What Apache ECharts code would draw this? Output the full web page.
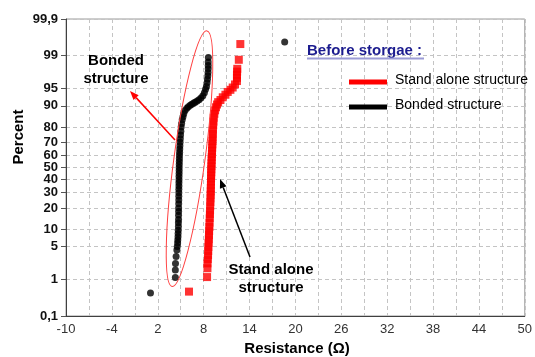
<!DOCTYPE html>
<html>
<head>
<meta charset="utf-8">
<script src="https://cdn.jsdelivr.net/npm/echarts@6/dist/echarts.min.js"></script>
<style>
  html, body { margin: 0; padding: 0; background: #fff; }
  #chart { width: 535px; height: 357px; }
</style>
</head>
<body>
<div id="chart"></div>
<script>
// Probability plot data (resistance in ohm, cumulative percent)
const bondedRes = [1.05, 4.3, 4.3, 4.32, 4.4, 4.5, 4.55, 4.6, 4.62, 4.65, 4.66, 4.68, 4.7, 4.7, 4.72, 4.72, 4.73, 4.73,
  4.74, 4.75, 4.75, 4.76, 4.76, 4.77, 4.77, 4.78, 4.78, 4.79, 4.8, 4.8, 4.81, 4.82, 4.83, 4.84, 4.86, 4.88, 4.9,
  4.92, 4.95, 4.98, 5.02, 5.06, 5.12, 5.2, 5.3, 5.4, 5.57, 5.8, 6.0, 6.25, 6.45, 6.7, 6.9, 7.15, 7.4, 7.65, 7.9,
  8.1, 8.25, 8.37, 8.45, 8.5, 8.55, 8.58, 8.6, 8.6, 8.6, 8.62, 18.6];
const bondedPct = [0.45, 1.1, 1.65, 2.3, 3.2, 4.3, 5.0, 5.8, 6.6, 7.5, 8.5, 9.6, 11, 12.5, 14, 16, 18, 20,
  22.5, 25, 27.5, 30, 32.5, 35, 37.5, 40, 42.5, 45, 47.5, 50, 52.5, 55, 57.5, 60, 62.5, 65, 67.5,
  70, 72.5, 75, 77.5, 80, 82, 84, 85.5, 86.8, 88.2, 89.1, 89.7, 90.2, 90.6, 91.0, 91.3, 91.7, 92.1, 92.6, 93.2,
  94.0, 94.8, 95.4, 96.1, 96.7, 97.2, 97.6, 98.0, 98.3, 98.6, 98.9, 99.55];

const standRes = [6.09, 8.45, 8.5, 8.5, 8.55, 8.58, 8.6, 8.62, 8.65, 8.68, 8.7, 8.72, 8.75, 8.77, 8.8, 8.82, 8.84,
  8.86, 8.88, 8.9, 8.92, 8.93, 8.94, 8.95, 8.96, 8.97, 8.98, 9.0, 9.0, 9.02, 9.03, 9.05, 9.06, 9.08, 9.1, 9.12,
  9.14, 9.16, 9.18, 9.2, 9.22, 9.25, 9.28, 9.32, 9.4, 9.5, 9.62, 9.75, 9.9, 10.2, 10.5, 10.85, 11.15, 11.5, 11.8,
  12.1, 12.36, 12.36, 12.36, 12.38, 12.4, 12.6, 12.8];
const standPct = [0.49, 1.13, 1.8, 2.3, 2.8, 3.4, 4.1, 4.9, 5.8, 6.8, 8, 9.3, 10.8, 12.5, 14.5, 16.5, 18.5,
  21, 23.5, 26, 28.5, 31, 33.5, 36, 38.5, 41, 43.5, 46, 48.5, 51, 53.5, 56, 58.5, 61, 63.5, 66,
  68.5, 71, 73.5, 76, 78.5, 81, 83, 85, 86.8, 88.3, 89.5, 90.5, 91.3, 92.0, 92.8, 93.5, 94.2, 94.7, 95.2,
  95.8, 96.4, 96.9, 97.3, 97.7, 98.0, 98.75, 99.49];

const yTickPct = [0.1, 1, 5, 10, 20, 30, 40, 50, 60, 70, 80, 90, 95, 99, 99.9];
const yTickLabels = ['0,1', '1', '5', '10', '20', '30', '40', '50', '60', '70', '80', '90', '95', '99', '99,9'];

// inverse normal cdf (Acklam), used for the probability axis
function probit(p) {
  const a = [-39.69683028665376, 220.9460984245205, -275.9285104469687, 138.3577518672690, -30.66479806614716, 2.506628277459239];
  const b = [-54.47609879822406, 161.5858368580409, -155.6989798598866, 66.80131188771972, -13.28068155288572];
  const c = [-0.007784894002430293, -0.3223964580411365, -2.400758277161838, -2.549732539343734, 4.374664141464968, 2.938163982698783];
  const d = [0.007784695709041462, 0.3224671290700398, 2.445134137142996, 3.754408661907416];
  const pl = 0.02425;
  if (p < pl) {
    const q = Math.sqrt(-2 * Math.log(p));
    return (((((c[0] * q + c[1]) * q + c[2]) * q + c[3]) * q + c[4]) * q + c[5]) / ((((d[0] * q + d[1]) * q + d[2]) * q + d[3]) * q + 1);
  }
  if (p > 1 - pl) {
    const q = Math.sqrt(-2 * Math.log(1 - p));
    return -(((((c[0] * q + c[1]) * q + c[2]) * q + c[3]) * q + c[4]) * q + c[5]) / ((((d[0] * q + d[1]) * q + d[2]) * q + d[3]) * q + 1);
  }
  const q = p - 0.5, r = q * q;
  return (((((a[0] * r + a[1]) * r + a[2]) * r + a[3]) * r + a[4]) * r + a[5]) * q / (((((b[0] * r + b[1]) * r + b[2]) * r + b[3]) * r + b[4]) * r + 1);
}

const yTickZ = yTickPct.map((p) => probit(p / 100));
const toPoints = (res, pct) => res.map((x, i) => [x, probit(pct[i] / 100)]);

const FONT = "'Liberation Sans', Arial, sans-serif";

// arrow line with a filled head at (x2, y2)
function arrow(x1, y1, x2, y2, color) {
  const ang = Math.atan2(y2 - y1, x2 - x1);
  const len = 9, half = 3.5;
  const bx = x2 - len * Math.cos(ang), by = y2 - len * Math.sin(ang);
  const px = -Math.sin(ang) * half, py = Math.cos(ang) * half;
  return [
    { type: 'line', z: 100, shape: { x1: x1, y1: y1, x2: bx, y2: by }, style: { stroke: color, lineWidth: 1.5 } },
    { type: 'polygon', z: 100, shape: { points: [[x2, y2], [bx + px, by + py], [bx - px, by - py]] }, style: { fill: color } }
  ];
}

function label(text, x, y, opts, extra) {
  return Object.assign({
    type: 'text', x: x, y: y, z: 100,
    style: Object.assign({
      text: text, font: 'bold 15px ' + FONT, fill: '#000',
      align: 'center', verticalAlign: 'middle', textAlign: 'center', textVerticalAlign: 'middle'
    }, opts || {})
  }, extra || {});
}

const chart = echarts.init(document.getElementById('chart'));

const option = {
  animation: false,
  grid: { left: 66, right: 4, top: 19, bottom: 41, show: true, borderColor: '#9a9a9a', borderWidth: 1 },
  xAxis: {
    type: 'value', min: -10, max: 50, interval: 3,
    axisLine: { onZero: false, lineStyle: { color: '#404040', width: 1 } },
    axisTick: { show: false },
    axisLabel: {
      margin: 7, color: '#333', fontFamily: FONT, fontSize: 13,
      showMinLabel: true, showMaxLabel: true,
      formatter: (v) => (Math.round(v + 10) % 6 === 0 ? String(v) : '')
    },
    splitLine: { show: true, lineStyle: { color: '#c4c4c4', type: [4, 3] } }
  },
  yAxis: {
    type: 'value', min: yTickZ[0], max: yTickZ[yTickZ.length - 1],
    axisLine: { show: true, onZero: false, lineStyle: { color: '#404040', width: 1 } },
    axisTick: { show: true, length: 5, customValues: yTickZ, lineStyle: { color: '#555' } },
    axisLabel: {
      customValues: yTickZ, margin: 8, color: '#111', fontFamily: FONT, fontSize: 13, fontWeight: 'bold',
      showMinLabel: true, showMaxLabel: true,
      formatter: (v) => {
        let best = 0;
        yTickZ.forEach((z, i) => { if (Math.abs(z - v) < Math.abs(yTickZ[best] - v)) best = i; });
        return yTickLabels[best];
      }
    },
    splitLine: { show: true, lineStyle: { color: '#c4c4c4', type: [4, 3] } }
  },
  series: [
    {
      name: 'Stand alone structure', type: 'scatter', symbol: 'rect', symbolSize: 8,
      itemStyle: { color: '#ff0000' }, data: toPoints(standRes, standPct), silent: true
    },
    {
      name: 'Bonded structure', type: 'scatter', symbol: 'circle', symbolSize: 7,
      itemStyle: { color: '#000' }, data: toPoints(bondedRes, bondedPct), silent: true
    }
  ],
  graphic: [
    { type: 'ellipse', z: 100, x: 189.5, y: 158.7, rotation: -0.136, shape: { cx: 0, cy: 0, rx: 15.5, ry: 129 },
      style: { fill: 'none', stroke: '#ff4040', lineWidth: 1 }, silent: true },
    ...arrow(175, 140, 130, 91, '#ff0000'),
    ...arrow(250, 257, 220, 179, '#000'),
    label('Bonded\nstructure', 116, 70, { lineHeight: 18.6 }),
    label('Stand alone\nstructure', 271, 279, { lineHeight: 18.5 }),
    label('Before storgae :', 307, 51, { fill: '#1c1c8f', align: 'left', textAlign: 'left' }),
    { type: 'line', z: 100, shape: { x1: 307, y1: 58.5, x2: 424, y2: 58.5 }, style: { stroke: '#9b9bd6', lineWidth: 2 } },
    { type: 'rect', z: 100, shape: { x: 349, y: 79.5, width: 38, height: 5 }, style: { fill: '#ff0000' } },
    label('Stand alone structure', 395, 80, { font: '14px ' + FONT, align: 'left', textAlign: 'left' }),
    { type: 'rect', z: 100, shape: { x: 349, y: 104.5, width: 38, height: 5 }, style: { fill: '#000' } },
    label('Bonded structure', 395, 105, { font: '14px ' + FONT, align: 'left', textAlign: 'left' }),
    label('Percent', 19, 137, {}, { rotation: Math.PI / 2 }),
    label('Resistance (\u03A9)', 297, 349, {})
  ]
};

chart.setOption(option);
</script>
</body>
</html>
